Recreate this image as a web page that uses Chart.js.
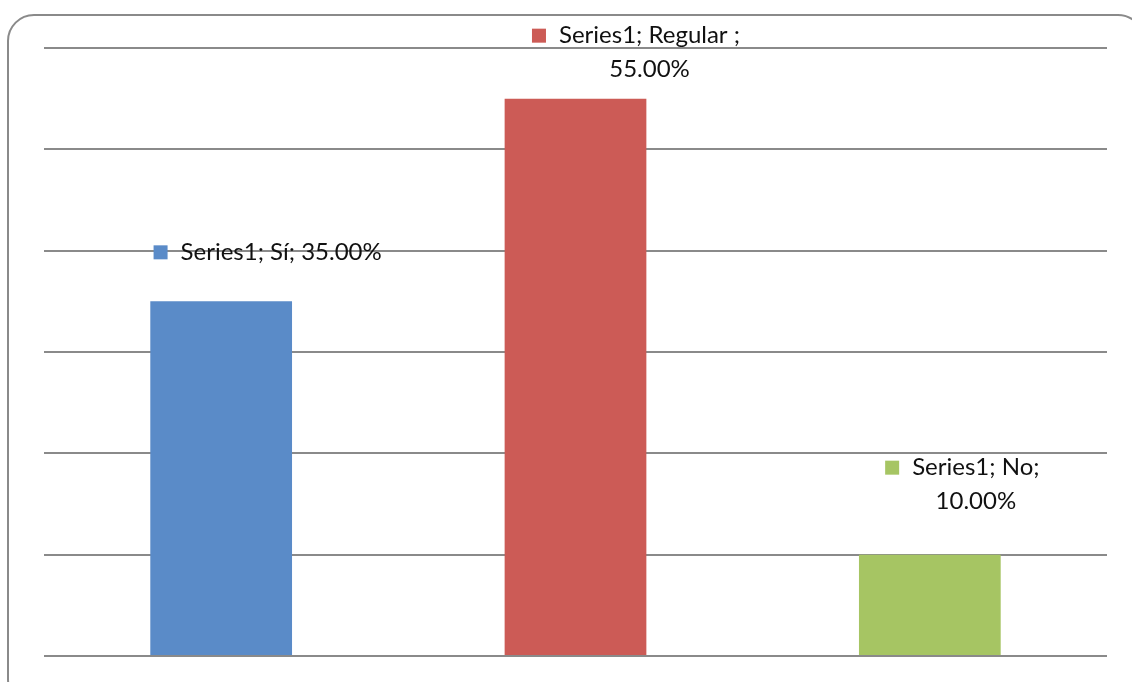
<!DOCTYPE html>
<html>
<head>
<meta charset="utf-8">
<script src="https://cdn.jsdelivr.net/npm/chart.js@4"></script>
<style>
  html, body { margin: 0; padding: 0; background: #fff; overflow: hidden; }
  #wrap { width: 1132px; height: 682px; position: relative; }
</style>
</head>
<body>
<div id="wrap"><canvas id="chart"></canvas></div>
<script>
// Chart data
const categories = ["Sí", "Regular ", "No"];
const seriesName = "Series1";
const values = [0.35, 0.55, 0.10];
const barColors = ["#5a8bc8", "#cc5b56", "#a6c563"];

// label text lines, and where each label sits relative to its bar (center x / top)
const labelLines = [
  ["Series1; Sí; 35.00%"],
  ["Series1; Regular ;", "55.00%"],
  ["Series1; No;", "10.00%"]
];
const labelOffsets = [[60, -49], [74, -63], [46, -87]];

const fmtPct = v => (v * 100).toFixed(2) + "%";

// outer frame with rounded corners
const framePlugin = {
  id: "frame",
  beforeDraw(chart) {
    const c = chart.ctx;
    c.save();
    c.fillStyle = "#fff";
    c.fillRect(0, 0, chart.width, chart.height);
    c.strokeStyle = "#8a8a8a";
    c.lineWidth = 2;
    c.beginPath();
    c.roundRect(8, 15, 1136, 690, 26);
    c.stroke();
    c.restore();
  }
};

// data labels with a small colour key square in front
const labelPlugin = {
  id: "pctLabels",
  afterDatasetsDraw(chart) {
    const c = chart.ctx;
    const meta = chart.getDatasetMeta(0);
    c.save();
    c.font = "24px Lato, 'Open Sans', sans-serif";
    c.fillStyle = "#111";
    c.textBaseline = "middle";
    c.textAlign = "center";
    meta.data.forEach((bar, i) => {
      const cx = bar.x + labelOffsets[i][0];
      const cy = bar.y + labelOffsets[i][1];
      labelLines[i].forEach((line, j) => {
        const y = cy + j * 34;
        c.fillText(line, cx, y);
        if (j === 0) {
          const w = c.measureText(line).width;
          c.fillStyle = barColors[i];
          c.fillRect(cx - w / 2 - 27, y - 7, 14, 14);
          c.fillStyle = "#111";
        }
      });
    });
    c.restore();
  }
};

new Chart(document.getElementById("chart"), {
  type: "bar",
  data: {
    labels: categories,
    datasets: [{
      label: seriesName,
      data: values,
      backgroundColor: barColors,
      borderWidth: 0,
      barPercentage: 0.4,
      categoryPercentage: 1.0
    }]
  },
  options: {
    responsive: true,
    maintainAspectRatio: false,
    animation: false,
    layout: { padding: { left: 44, right: 25, top: 48, bottom: 18 } },
    plugins: {
      legend: { display: false },
      tooltip: { enabled: false }
    },
    scales: {
      x: {
        grid: { display: false },
        border: { display: false },
        ticks: { display: false }
      },
      y: {
        min: 0,
        max: 0.6,
        ticks: { display: false, stepSize: 0.1 },
        grid: { color: "#8a8a8a", lineWidth: 2, drawTicks: false },
        border: { display: false }
      }
    }
  },
  plugins: [framePlugin, labelPlugin]
});
</script>
</body>
</html>
